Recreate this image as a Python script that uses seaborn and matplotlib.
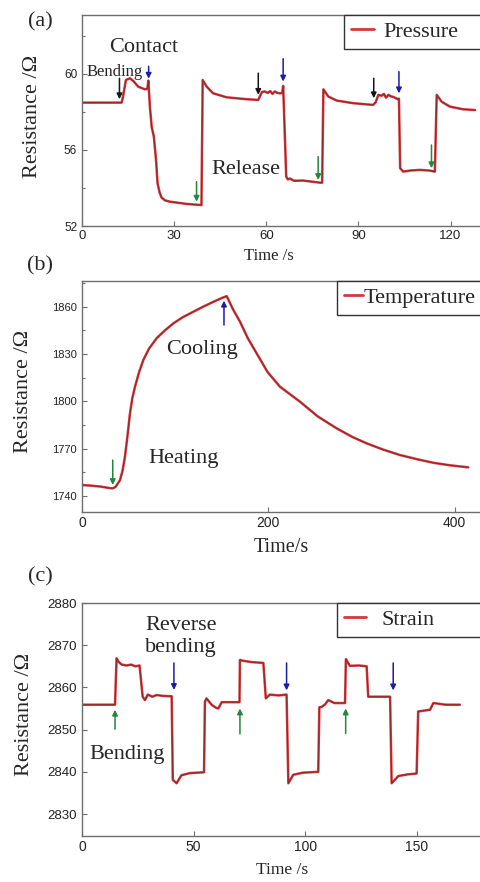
import numpy as np
import pandas as pd
import matplotlib.pyplot as plt
import seaborn as sns
from matplotlib.ticker import MultipleLocator

# ---- data ----
# (a) pressure
press_t = [0, 12.9, 13.3, 14.3, 15.6, 16.7, 18.3, 20.5, 21.3, 21.6, 22.1, 22.7, 23.4, 24.1,
           24.6, 25.3, 25.9, 27.0, 28.6, 34.1, 38.9, 39.3, 40.6, 42.7, 47.1, 53.6, 57.4, 58.0,
           58.6, 59.5, 60.5, 61.3, 62.0, 62.8, 63.6, 64.5, 65.2, 65.5, 66.0, 66.5, 67.0, 67.7,
           69.0, 72.0, 75.0, 77.5, 78.2, 78.6, 80.2, 82.9, 88.3, 94.8, 95.6, 96.5, 97.5, 98.3,
           99.0, 99.8, 100.6, 101.5, 102.8, 103.2, 103.6, 104.6, 107.0, 110.0, 113.0, 114.9,
           115.5, 117.1, 119.8, 124.1, 128.0]
press_r = [58.49, 58.49, 58.75, 59.68, 59.77, 59.63, 59.33, 59.19, 59.22, 59.65, 58.3, 57.2,
           56.7, 55.5, 54.25, 53.75, 53.5, 53.35, 53.28, 53.16, 53.10, 59.68, 59.33, 58.98,
           58.77, 58.67, 58.63, 58.85, 59.05, 59.08, 59.0, 59.1, 58.95, 59.08, 59.0, 58.98,
           59.0, 59.37, 57.0, 54.6, 54.45, 54.5, 54.38, 54.39, 54.33, 54.28, 54.28, 59.19,
           58.81, 58.6, 58.46, 58.37, 58.5, 58.9, 58.85, 58.95, 58.75, 58.9, 58.82, 58.78,
           58.67, 58.7, 55.04, 54.86, 54.92, 54.95, 54.92, 54.86, 58.9, 58.54, 58.28, 58.14,
           58.1]
# arrows (time, tail, head)
press_bend = [(12.2, 59.77, 58.67), (57.4, 60.04, 58.9), (95.0, 59.77, 58.72)]
press_contact = [(21.7, 60.4, 59.75), (65.5, 60.8, 59.6), (103.2, 60.12, 58.98)]
press_release = [(37.3, 54.33, 53.28), (76.9, 55.65, 54.42), (113.8, 56.26, 55.04)]

# (b) temperature
temp_t = [0, 10, 20, 30, 33, 36, 40.8, 43.5, 46.1, 48.8, 51.5, 54, 56.9, 61, 65.8, 72, 80.1,
          89, 98, 108, 119.5, 130, 141, 150, 155.3, 162.4, 169.6, 178, 187.5, 199.3, 212.5,
          234, 253, 273.4, 290, 305.6, 323, 341.3, 360, 377, 395, 414.6]
temp_r = [1747.0, 1746.6, 1746.0, 1745.0, 1744.9, 1745.8, 1750.1, 1756, 1764.9, 1778,
          1792.4, 1802, 1809.3, 1818, 1826.2, 1833.5, 1840, 1845, 1849.4, 1853.3, 1856.8,
          1860, 1863.1, 1865.5, 1866.7, 1858, 1850.5, 1840, 1830.4, 1818.5, 1809.3, 1799.8,
          1790.5, 1782.9, 1777.5, 1773.4, 1769.5, 1766, 1763.3, 1761.1, 1759.5, 1758.2]
temp_heat = [(33, 1762.8, 1747)]
temp_cool = [(152.4, 1848.4, 1863.8)]

# (c) strain
strain_t = [0, 14.8, 15.5, 16.5, 17.8, 20, 22, 24, 25.8, 27.2, 28.2, 29.5, 31.5, 33.5, 36,
            40.2, 40.7, 42.4, 44.6, 48.4, 54.7, 55.1, 55.8, 58.1, 60, 61.1, 62.6, 67.5, 70.6,
            70.8, 72.3, 76, 81.3, 82.4, 84.2, 88, 91.7, 92.5, 94.7, 99, 105.9, 106.4, 107.5,
            109, 110.4, 113.1, 117.9, 118.3, 120.1, 124, 127.6, 128.3, 133, 138.1, 138.8,
            141.8, 146, 150, 150.7, 156, 157.5, 163, 169.4]
strain_r = [2855.9, 2855.9, 2866.9, 2866.0, 2865.4, 2865.2, 2865.4, 2865.0, 2865.2, 2857.8,
            2857.0, 2858.3, 2857.8, 2858.2, 2858.0, 2857.9, 2838.1, 2837.3, 2839.2, 2839.7,
            2839.9, 2856.6, 2857.4, 2855.9, 2855.2, 2855.0, 2856.5, 2856.5, 2856.5, 2866.5,
            2866.3, 2866.0, 2865.8, 2857.4, 2858.3, 2858.1, 2858.3, 2837.3, 2839.3, 2839.8,
            2840.0, 2855.3, 2855.4, 2856.0, 2857.0, 2856.3, 2856.3, 2866.7, 2865.1, 2865.2,
            2865.0, 2857.8, 2857.8, 2857.8, 2837.3, 2839.0, 2839.4, 2839.6, 2854.3, 2854.7,
            2856.3, 2855.9, 2855.9]
strain_bend = [(14.8, 2850.1, 2854.7), (70.8, 2849.0, 2855.0), (118.2, 2849.1, 2855.0)]
strain_rev = [(41.2, 2865.8, 2859.4), (91.7, 2865.8, 2859.3), (139.5, 2865.8, 2859.3)]

# ---- style ----
LINE = '#d03a3c'
CORE = '#8a2326'
SPINE = '#6e6e6e'
BLACK = '#151515'
BLUE = '#1c1ca8'
GREEN = '#23873a'

sns.set_theme(style='ticks')
plt.rcParams['font.family'] = ['Liberation Serif', 'DejaVu Serif']
plt.rcParams['axes.edgecolor'] = SPINE
plt.rcParams['axes.linewidth'] = 1.0

fig = plt.figure(figsize=(4.8, 8.82), dpi=100)
W, H = 480, 882


def add_ax(top, bottom, left=82, right=484):
    return fig.add_axes([left / W, 1 - bottom / H, (right - left) / W, (bottom - top) / H])


def style(ax, xlim, ylim, xmaj, ymaj, ymin=None, xsize=9.5, ysize=9):
    ax.set_xlim(*xlim)
    ax.set_ylim(*ylim)
    ax.xaxis.set_major_locator(MultipleLocator(xmaj))
    ax.yaxis.set_major_locator(MultipleLocator(ymaj))
    if ymin:
        ax.yaxis.set_minor_locator(MultipleLocator(ymin))
    ax.tick_params(which='both', direction='in', color=SPINE, width=0.8,
                   labelfontfamily='Liberation Sans', labelcolor='#222')
    ax.tick_params(axis='x', labelsize=xsize, pad=3)
    ax.tick_params(axis='y', labelsize=ysize, pad=3.5)
    ax.tick_params(which='major', length=3.5)
    ax.tick_params(which='minor', length=2)
    for s in ax.spines.values():
        s.set_color(SPINE)


def draw(ax, t, r, name):
    df = pd.DataFrame({'time': t, 'res': r})
    sns.lineplot(data=df, x='time', y='res', ax=ax, color=LINE, lw=1.8,
                 estimator=None, sort=False, label=name)
    sns.lineplot(data=df, x='time', y='res', ax=ax, color=CORE, lw=0.6,
                 estimator=None, sort=False, legend=False)


def arrows(ax, items, color):
    for t, tail, head in items:
        ax.annotate('', xy=(t, head), xytext=(t, tail),
                    arrowprops=dict(arrowstyle='-|>', color=color, lw=1.1,
                                    mutation_scale=8, shrinkA=0, shrinkB=0))


def legend(ax, xf, hl, tp, bp):
    leg = ax.legend(loc='upper left', bbox_to_anchor=(xf, 1.0, 1.03 - xf, 0), mode='expand',
                    borderaxespad=0, frameon=True, fancybox=False, edgecolor='#333333',
                    framealpha=1, fontsize=16, handlelength=hl, handletextpad=tp,
                    borderpad=bp)
    leg.get_frame().set_linewidth(1.0)
    for line in leg.get_lines():
        line.set_linewidth(2.0)
        line.set_color(LINE)


def labels(ax, xlabel, xsize, xy, yx, xx=0.497):
    ax.set_xlabel(xlabel, fontsize=xsize, va='center')
    ax.xaxis.set_label_coords(xx, xy)
    ax.set_ylabel('Resistance /Ω', fontsize=16, va='center')
    ax.yaxis.set_label_coords(yx, 0.52)


# (a) pressure
ax1 = add_ax(15, 226)
draw(ax1, press_t, press_r, 'Pressure')
style(ax1, (0, 130.9), (52, 63.1), 30, 4, 2, xsize=9.5, ysize=8.5)
arrows(ax1, press_bend, BLACK)
arrows(ax1, press_contact, BLUE)
arrows(ax1, press_release, GREEN)
ax1.text(20.2, 61.37, 'Contact', fontsize=16, ha='center', va='center')
ax1.text(10.6, 60.12, 'Bending', fontsize=12, ha='center', va='center')
ax1.text(53.3, 54.95, 'Release', fontsize=16, ha='center', va='center')
legend(ax1, 0.652, 1.05, 0.4, 0.3)
labels(ax1, 'Time /s', 12, -0.142, -0.122, xx=0.465)

# (b) temperature
ax2 = add_ax(281, 512)
draw(ax2, temp_t, temp_r, 'Temperature')
style(ax2, (0, 431.5), (1729.9, 1876.3), 200, 30, 15, xsize=10, ysize=8)
arrows(ax2, temp_heat, GREEN)
arrows(ax2, temp_cool, BLUE)
ax2.text(128.8, 1833.2, 'Cooling', fontsize=16, ha='center', va='center')
ax2.text(108.8, 1764.1, 'Heating', fontsize=16, ha='center', va='center')
legend(ax2, 0.635, 0.85, 0.05, 0.3)
labels(ax2, 'Time/s', 14.5, -0.152, -0.146)

# (c) strain
ax3 = add_ax(603, 836)
draw(ax3, strain_t, strain_r, 'Strain')
style(ax3, (0, 180.2), (2824.8, 2880), 50, 10, xsize=10, ysize=9.5)
arrows(ax3, strain_bend, GREEN)
arrows(ax3, strain_rev, BLUE)
ax3.text(44.4, 2872.1, 'Reverse\nbending', fontsize=16, ha='center', va='center',
         linespacing=1.2)
ax3.text(20.2, 2844.2, 'Bending', fontsize=16, ha='center', va='center')
legend(ax3, 0.635, 1.0, 0.7, 0.3)
labels(ax3, 'Time /s', 12.5, -0.146, -0.142)

# panel labels
for lab, y in [('(a)', 22), ('(b)', 266), ('(c)', 577)]:
    fig.text(40 / W, 1 - y / H, lab, fontsize=16, ha='center', va='center')

fig.savefig('out.png', dpi=100)
